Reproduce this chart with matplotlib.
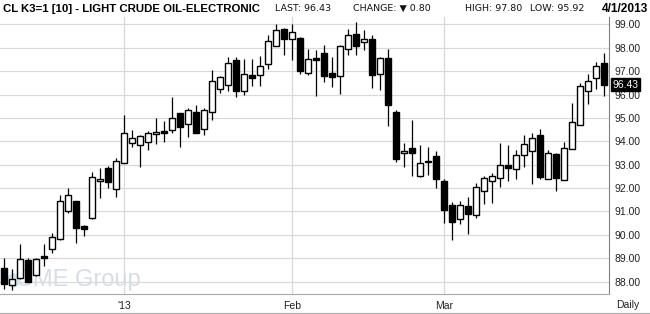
import numpy as np
import matplotlib
matplotlib.use("Agg")
import matplotlib.pyplot as plt
from matplotlib.transforms import blended_transform_factory

# daily OHLC, 76 sessions (mid Dec 2012 .. 4/1/2013)
opens = [88.57, 87.84, 88.14, 88.93, 88.29, 89.10, 89.39, 89.83, 91.00, 91.44,
         90.39, 90.71, 92.30, 92.86, 91.96, 93.07, 93.93, 93.84, 93.97, 94.31,
         94.46, 94.50, 95.21, 94.74, 95.27, 94.53, 95.26, 96.24, 96.43, 97.47,
         96.16, 96.83, 96.86, 97.29, 98.06, 98.79, 98.40, 98.44, 96.94, 97.54,
         97.76, 96.94, 96.80, 97.93, 98.61, 98.23, 98.38, 96.89, 97.57, 95.26,
         93.50, 93.71, 92.50, 93.17, 93.36, 92.31, 91.29, 90.67, 91.24, 90.84,
         91.86, 92.29, 92.44, 93.00, 92.83, 93.40, 93.59, 94.26, 92.40, 93.44,
         92.33, 93.69, 94.70, 96.16, 96.69, 97.37]
highs = [89.00, 88.53, 89.60, 88.99, 88.99, 89.60, 90.10, 91.71, 92.00, 91.44,
         90.43, 92.71, 92.86, 92.96, 93.29, 95.14, 94.50, 94.26, 94.46, 95.00,
         94.86, 95.90, 95.21, 95.43, 95.56, 95.43, 97.07, 96.81, 97.61, 97.61,
         97.51, 97.51, 97.64, 98.57, 99.00, 98.83, 99.00, 98.47, 97.97, 97.90,
         98.14, 97.61, 98.11, 98.80, 99.11, 98.76, 98.57, 97.61, 97.93, 95.36,
         93.93, 94.93, 93.86, 93.76, 93.60, 92.40, 91.39, 91.43, 91.64, 92.21,
         92.53, 92.64, 93.94, 93.83, 93.63, 94.26, 94.34, 94.51, 93.63, 93.49,
         93.99, 95.66, 96.49, 96.87, 97.40, 97.80]
lows = [87.67, 87.64, 88.10, 88.00, 88.24, 88.67, 89.24, 89.79, 90.93, 89.64,
        89.93, 90.67, 91.57, 92.00, 91.61, 93.07, 93.74, 92.89, 93.61, 93.90,
        93.97, 94.34, 93.74, 94.17, 94.34, 94.26, 94.93, 96.07, 96.17, 95.90,
        95.97, 96.37, 96.37, 97.11, 98.06, 97.71, 97.50, 96.89, 96.86, 95.94,
        96.54, 96.33, 96.04, 97.69, 97.69, 97.90, 96.30, 96.21, 94.67, 93.10,
        92.89, 92.50, 92.46, 92.57, 91.99, 90.50, 89.76, 90.47, 90.03, 90.71,
        91.31, 91.36, 92.04, 92.30, 92.40, 92.90, 92.16, 92.40, 92.40, 91.87,
        92.33, 93.69, 94.70, 95.59, 96.26, 95.92]
closes = [87.90, 88.10, 88.96, 88.00, 88.96, 89.03, 89.90, 91.44, 91.71, 90.29,
          90.24, 92.47, 92.39, 92.26, 93.17, 94.36, 94.14, 94.21, 94.36, 94.40,
          94.34, 95.00, 94.60, 95.34, 94.34, 95.34, 96.59, 96.76, 97.37, 96.16,
          96.90, 96.69, 97.23, 98.31, 98.76, 98.36, 98.66, 97.01, 97.54, 97.49,
          96.80, 96.76, 98.09, 98.57, 98.09, 98.40, 96.86, 97.57, 95.57, 93.24,
          93.57, 93.50, 93.07, 93.10, 92.41, 91.07, 90.53, 91.29, 90.89, 92.04,
          92.43, 92.53, 92.97, 92.87, 93.40, 93.87, 94.16, 92.47, 93.51, 92.44,
          93.73, 94.83, 96.37, 96.59, 97.23, 96.43]

month_starts = [15, 36, 55]
month_labels = ["'13", "Feb", "Mar"]
price_ticks = list(range(88, 100))
last_price = 96.43

title = "CL K3=1 [10] - LIGHT CRUDE OIL-ELECTRONIC"
stats = ["LAST: 96.43", "CHANGE: \u25bc 0.80", "HIGH: 97.80", "LOW: 95.92"]
date_text = "4/1/2013"

plt.rcParams["font.family"] = ["Liberation Sans", "DejaVu Sans"]

fig = plt.figure(figsize=(6.5, 3.14), dpi=100)
ax = fig.add_axes([0.0, 1 - 294 / 314, 609 / 650, (294 - 17) / 314])

x = np.arange(len(opens))
o = np.array(opens); h = np.array(highs); l = np.array(lows); c = np.array(closes)
up = c >= o

ax.vlines(x, l, h, color="black", linewidth=0.9, zorder=3)
bottoms = np.minimum(o, c)
heights = np.maximum(np.abs(c - o), 0.06)
ax.bar(x[up], heights[up], bottom=bottoms[up], width=0.72,
       facecolor="white", edgecolor="black", linewidth=1.0, zorder=4)
ax.bar(x[~up], heights[~up], bottom=bottoms[~up], width=0.72,
       facecolor="black", edgecolor="black", linewidth=1.0, zorder=4)

ax.set_xlim(-0.5, 75.62)
ax.set_ylim(87.47, 99.32)

# grid
for p in price_ticks:
    ax.axhline(p, color="#d9d9d9", linewidth=0.9, zorder=1)
for m in month_starts:
    ax.axvline(m, color="#d9d9d9", linewidth=0.9, zorder=1)

ax.yaxis.tick_right()
ax.set_yticks(price_ticks)
ax.set_yticklabels([f"{p:.2f}" for p in price_ticks])
ax.set_xticks(month_starts)
ax.set_xticklabels(month_labels)
ax.tick_params(axis="y", length=0, pad=4, labelsize=7.5, labelcolor="#222222")
ax.tick_params(axis="x", length=0, pad=5, labelsize=7.5, labelcolor="#222222")

for s in ["left", "top"]:
    ax.spines[s].set_visible(False)
ax.spines["right"].set_color("#808080")
ax.spines["bottom"].set_color("#a8a8a8")

# last price marker on the axis
tr = blended_transform_factory(ax.transAxes, ax.transData)
ax.text(1.006, last_price, f"{last_price:.2f}", transform=tr, ha="left",
        va="center", fontsize=7.5, color="white", zorder=6,
        bbox=dict(boxstyle="square,pad=0.12", facecolor="black", edgecolor="black"))

# watermark
ax.text(0.026, 0.05, "CME Group", transform=ax.transAxes, fontsize=17,
        color="#d5dde6", ha="left", va="center", zorder=2)
ax.plot([0.022], [0.05], marker="o", markersize=9, color="#d3e3ef",
        transform=ax.transAxes, zorder=2, clip_on=False)

# header
fig.text(3 / 650, 1 - 8.5 / 314, title, fontweight="bold",
         fontsize=8.2, va="center", ha="left")
stat_x = [275, 353, 465, 530]
for sx, s in zip(stat_x, stats):
    fig.text(sx / 650, 1 - 8.5 / 314, s, fontsize=6.8, va="center", ha="left",
             family=["DejaVu Sans"], color="#111111")
fig.text(648 / 650, 1 - 8.5 / 314, date_text, fontweight="bold",
         fontsize=8.6, va="center", ha="right")

fig.text(628 / 650, 1 - 305 / 314, "Daily", fontsize=7.5, ha="center",
         va="center", color="#222222")
fig.add_artist(plt.Line2D([0, 1], [1.5 / 314, 1.5 / 314], color="#b0b0b0",
                          linewidth=0.9, transform=fig.transFigure))

fig.savefig("out.png", dpi=100)
